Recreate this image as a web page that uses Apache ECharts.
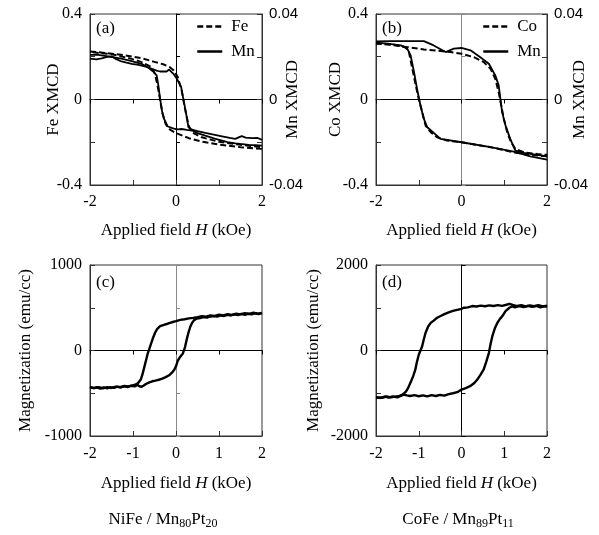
<!DOCTYPE html>
<html><head><meta charset="utf-8">
<script src="https://cdn.jsdelivr.net/npm/echarts@6/dist/echarts.min.js"></script>
<style>html,body{margin:0;padding:0;background:#fff}#c{width:599px;height:535px}</style>
</head><body><div id="c"></div>
<script>
// ---------- data (H in kOe) ----------
const xTicks = [-2, -1, 0, 1, 2];
// panel (a) Fe XMCD (left axis) and Mn XMCD (right axis)
const aFeUp = [[-2,0.225],[-1.6,0.217],[-1.2,0.207],[-0.8,0.193],[-0.5,0.176],[-0.3,0.165],[-0.15,0.152],[-0.05,0.136],[0.04,0.105],[0.13,0.045],[0.21,-0.044],[0.29,-0.12],[0.37,-0.153],[0.6,-0.177],[1.0,-0.198],[1.5,-0.212],[2,-0.223]];
const aFeDown = [[2,-0.231],[1.5,-0.223],[1.0,-0.211],[0.6,-0.197],[0.3,-0.181],[0,-0.157],[-0.14,-0.141],[-0.24,-0.115],[-0.32,-0.06],[-0.37,0.0],[-0.43,0.066],[-0.49,0.12],[-0.57,0.152],[-0.8,0.175],[-1.03,0.19],[-1.5,0.212],[-2,0.222]];
const aMnUp = [[-2,0.0191],[-1.85,0.0188],[-1.73,0.0192],[-1.6,0.0199],[-1.5,0.0202],[-1.4,0.0190],[-1.27,0.0178],[-1.15,0.0172],[-1.03,0.0167],[-0.9,0.0163],[-0.8,0.0159],[-0.68,0.0152],[-0.57,0.0144],[-0.45,0.0135],[-0.37,0.0131],[-0.28,0.0132],[-0.22,0.0131],[-0.16,0.0140],[-0.12,0.0145],[-0.06,0.0120],[0.02,0.0097],[0.12,0.0058],[0.17,0.0003],[0.23,-0.0059],[0.29,-0.0130],[0.37,-0.0141],[0.5,-0.0148],[0.68,-0.0156],[0.85,-0.0163],[1.07,-0.0172],[1.25,-0.0180],[1.38,-0.0184],[1.47,-0.0176],[1.53,-0.0171],[1.62,-0.0178],[1.77,-0.0181],[1.9,-0.0180],[2,-0.0189]];
const aMnDown = [[2,-0.0216],[1.85,-0.0214],[1.69,-0.0212],[1.5,-0.0208],[1.38,-0.0205],[1.2,-0.0199],[1.07,-0.0192],[0.9,-0.0183],[0.68,-0.0169],[0.5,-0.0157],[0.37,-0.0145],[0.25,-0.0142],[0.13,-0.0138],[0.05,-0.0140],[-0.02,-0.0138],[-0.1,-0.0133],[-0.14,-0.0130],[-0.2,-0.0125],[-0.24,-0.0106],[-0.28,-0.0090],[-0.32,-0.0059],[-0.37,0.0003],[-0.41,0.0066],[-0.45,0.0113],[-0.53,0.0131],[-0.65,0.0150],[-0.8,0.0167],[-1.03,0.0180],[-1.27,0.0191],[-1.58,0.0202],[-1.81,0.0209],[-2,0.0209]];
// panel (b) Co XMCD (left) and Mn XMCD (right)
const bCoUp = [[-2,0.264],[-1.73,0.258],[-1.5,0.252],[-1.27,0.245],[-0.88,0.234],[-0.49,0.227],[-0.26,0.222],[0,0.214],[0.29,0.198],[0.52,0.175],[0.68,0.144],[0.79,0.097],[0.87,0.034],[0.93,-0.028],[0.99,-0.091],[1.07,-0.153],[1.16,-0.2],[1.26,-0.231],[1.46,-0.247],[1.77,-0.255],[2,-0.259]];
const bCoDown = [[2,-0.266],[1.46,-0.255],[1.22,-0.247],[0.68,-0.223],[0,-0.2],[-0.34,-0.192],[-0.57,-0.177],[-0.72,-0.153],[-0.84,-0.122],[-0.92,-0.059],[-1.0,0.003],[-1.07,0.066],[-1.15,0.144],[-1.23,0.222],[-1.31,0.245],[-1.58,0.256],[-2,0.261]];
const bMnUp = [[-2,0.0272],[-1.66,0.0273],[-0.88,0.0273],[-0.65,0.0253],[-0.37,0.0222],[-0.18,0.0238],[0,0.0241],[0.21,0.0230],[0.44,0.0198],[0.64,0.0167],[0.79,0.0113],[0.87,0.0066],[0.91,0.0003],[0.95,-0.0059],[1.03,-0.0122],[1.14,-0.0184],[1.26,-0.0239],[1.46,-0.0250],[1.77,-0.0259],[2,-0.0266]];
const bMnDown = [[2,-0.0281],[1.61,-0.0266],[1.22,-0.0244],[0.68,-0.0223],[0,-0.02],[-0.49,-0.0184],[-0.8,-0.013],[-0.88,-0.0091],[-0.96,-0.0028],[-1.04,0.005],[-1.11,0.0128],[-1.19,0.0206],[-1.27,0.0238],[-1.42,0.0253],[-1.73,0.0261],[-2,0.0266]];
// panel (c) NiFe / Mn80Pt20 magnetization (emu/cc)
const cUp = [[-2,-425],[-1.92,-440],[-1.84,-430],[-1.76,-446],[-1.68,-432],[-1.6,-442],[-1.52,-428],[-1.44,-437],[-1.36,-422],[-1.28,-432],[-1.2,-418],[-1.12,-428],[-1.04,-412],[-0.96,-420],[-0.9,-402],[-0.85,-418],[-0.8,-425],[-0.75,-410],[-0.7,-392],[-0.62,-372],[-0.55,-360],[-0.48,-352],[-0.4,-342],[-0.32,-330],[-0.24,-312],[-0.16,-290],[-0.1,-262],[-0.04,-225],[0,-185],[0.04,-120],[0.1,-72],[0.16,-35],[0.21,40],[0.25,130],[0.29,210],[0.33,275],[0.37,320],[0.42,355],[0.48,372],[0.56,380],[0.64,390],[0.72,384],[0.8,398],[0.88,402],[0.96,396],[1.04,410],[1.12,404],[1.2,416],[1.28,410],[1.36,422],[1.44,414],[1.52,428],[1.6,418],[1.68,430],[1.76,422],[1.84,436],[1.92,426],[2,438]];
const cDown = [[2,440],[1.9,430],[1.8,442],[1.7,428],[1.6,436],[1.5,422],[1.4,430],[1.3,416],[1.2,424],[1.1,410],[1.0,418],[0.9,404],[0.8,410],[0.7,396],[0.6,402],[0.5,390],[0.4,382],[0.3,376],[0.2,366],[0.1,358],[0,343],[-0.1,330],[-0.18,316],[-0.28,300],[-0.37,285],[-0.44,250],[-0.49,205],[-0.54,140],[-0.58,80],[-0.62,20],[-0.66,-40],[-0.7,-120],[-0.74,-200],[-0.78,-280],[-0.82,-340],[-0.88,-380],[-0.95,-400],[-1.03,-410],[-1.12,-420],[-1.2,-415],[-1.3,-430],[-1.4,-422],[-1.5,-438],[-1.6,-428],[-1.7,-442],[-1.8,-430],[-1.9,-440],[-2,-430]];
// panel (d) CoFe / Mn89Pt11 magnetization (emu/cc)
const dUp = [[-2,-1092],[-1.9,-1110],[-1.8,-1080],[-1.7,-1100],[-1.6,-1075],[-1.5,-1095],[-1.42,-1060],[-1.35,-1030],[-1.28,-1050],[-1.2,-1065],[-1.1,-1045],[-1.0,-1070],[-0.9,-1050],[-0.8,-1075],[-0.7,-1045],[-0.6,-1065],[-0.5,-1040],[-0.4,-1055],[-0.3,-1020],[-0.2,-1000],[-0.1,-975],[0,-915],[0.1,-880],[0.2,-835],[0.3,-760],[0.37,-680],[0.45,-560],[0.52,-440],[0.58,-260],[0.64,-60],[0.68,150],[0.72,330],[0.78,520],[0.84,650],[0.9,740],[0.96,810],[1.03,920],[1.07,965],[1.12,1000],[1.18,1030],[1.25,1010],[1.35,1040],[1.45,1015],[1.55,1045],[1.65,1020],[1.75,1045],[1.85,1010],[1.93,1040],[2,1020]];
const dDown = [[2,1050],[1.9,1030],[1.8,1060],[1.7,1035],[1.6,1055],[1.5,1030],[1.4,1060],[1.3,1040],[1.2,1065],[1.12,1090],[1.05,1070],[0.95,1045],[0.85,1060],[0.75,1040],[0.65,1055],[0.55,1035],[0.45,1050],[0.35,1030],[0.25,1040],[0.15,1010],[0.05,1000],[0,975],[-0.1,950],[-0.2,925],[-0.3,890],[-0.4,850],[-0.5,800],[-0.57,765],[-0.65,700],[-0.72,645],[-0.78,560],[-0.84,415],[-0.88,270],[-0.92,100],[-0.96,0],[-1.0,-100],[-1.05,-300],[-1.08,-450],[-1.13,-600],[-1.18,-720],[-1.25,-880],[-1.3,-960],[-1.38,-1030],[-1.45,-1060],[-1.55,-1080],[-1.65,-1095],[-1.75,-1075],[-1.85,-1105],[-2,-1100]];
// tick labels
const leftLabelsXMCD = ['-0.4', '0', '0.4'];
const rightLabelsXMCD = ['-0.04', '0', '0.04'];

// ---------- layout / styling ----------
const SERIF = 'Liberation Serif', SANS = 'Liberation Sans';
const FRAME = '#333';
const grids = [
  {left: 90, top: 14, width: 172, height: 171},
  {left: 376, top: 14, width: 171, height: 171},
  {left: 90, top: 265, width: 172, height: 171},
  {left: 376, top: 265, width: 171, height: 171}
];
const vZeroColor = ['#000', '#888', '#888', '#000'];
const xName = 'Applied field {i|H} (kOe)';
const nameStyle = {fontFamily: SERIF, fontSize: 17, color: '#000',
  rich: {i: {fontFamily: SERIF, fontSize: 17, fontStyle: 'italic', color: '#000'}}};
const labelStyle = {fontFamily: SERIF, fontSize: 16, color: '#000'};

function fmtEnds(v, lo, hi, labels) {
  if (Math.abs(v - lo) < 1e-9) return labels[0];
  if (Math.abs(v) < 1e-9) return labels[1];
  if (Math.abs(v - hi) < 1e-9) return labels[2];
  return '';
}

const xAxis = [], yAxis = [], series = [];
const yRanges = [
  {min: -0.4, max: 0.4, interval: 0.2, name: 'Fe XMCD', gap: 28, labels: leftLabelsXMCD, rgap: 22},
  {min: -0.4, max: 0.4, interval: 0.2, name: 'Co XMCD', gap: 32, labels: leftLabelsXMCD, rgap: 24},
  {min: -1000, max: 1000, interval: 500, name: 'Magnetization (emu/cc)', gap: 56, labels: ['-1000', '0', '1000']},
  {min: -2000, max: 2000, interval: 1000, name: 'Magnetization (emu/cc)', gap: 54, labels: ['-2000', '0', '2000']}
];
const xLabelMargin = [9, 9, 10, 10];
const xNameGap = [37, 37, 39, 39];
const leftIdx = [], rightIdx = [], bottomIdx = [];
grids.forEach((g, gi) => {
  bottomIdx[gi] = xAxis.length;
  xAxis.push({
    gridIndex: gi, type: 'value', min: xTicks[0], max: xTicks[xTicks.length - 1], interval: 1, position: 'bottom',
    axisLine: {onZero: false, lineStyle: {color: FRAME, width: 1}},
    axisTick: {inside: true, length: 5, lineStyle: {color: FRAME}},
    axisLabel: {...labelStyle, margin: xLabelMargin[gi], formatter: v => (gi < 2 && Math.abs(v) === 1) ? '' : String(v)},
    splitLine: {show: false},
    name: xName, nameLocation: 'middle', nameGap: xNameGap[gi], nameMoveOverlap: false, nameTextStyle: nameStyle
  });
  const yr = yRanges[gi];
  leftIdx[gi] = yAxis.length;
  yAxis.push({
    gridIndex: gi, type: 'value', min: yr.min, max: yr.max, interval: yr.interval, position: 'left',
    axisLine: {show: true, onZero: false, lineStyle: {color: FRAME, width: 1}},
    axisTick: {inside: true, length: 5, lineStyle: {color: FRAME}},
    axisLabel: {...labelStyle, margin: 8, formatter: v => fmtEnds(v, yr.min, yr.max, yr.labels)},
    splitLine: {show: false},
    name: yr.name, nameLocation: 'middle', nameRotate: 90, nameGap: yr.gap, nameMoveOverlap: false, nameTextStyle: nameStyle
  });
  if (gi < 2) {
    rightIdx[gi] = yAxis.length;
    yAxis.push({
      gridIndex: gi, type: 'value', min: -0.04, max: 0.04, interval: 0.02, position: 'right',
      axisLine: {show: true, onZero: false, lineStyle: {color: FRAME, width: 1}},
      axisTick: {inside: true, length: 5, lineStyle: {color: FRAME}},
      axisLabel: {fontFamily: SANS, fontSize: 15, color: '#000', margin: 7,
        formatter: v => fmtEnds(v, -0.04, 0.04, rightLabelsXMCD)},
      splitLine: {show: false},
      name: 'Mn XMCD', nameLocation: 'middle', nameRotate: 90, nameGap: yr.rgap, nameMoveOverlap: false, nameTextStyle: nameStyle
    });
  }
  // zero lines with ticks
  xAxis.push({
    gridIndex: gi, type: 'value', min: -2, max: 2, interval: 1, position: 'bottom',
    axisLine: {show: true, onZero: true, onZeroAxisIndex: leftIdx[gi], lineStyle: {color: '#000', width: 1}},
    axisTick: {show: true, inside: false, length: 4, lineStyle: {color: '#000'}},
    axisLabel: {show: false}, splitLine: {show: false}
  });
  yAxis.push({
    gridIndex: gi, type: 'value', min: yr.min, max: yr.max, interval: yr.interval, position: 'left',
    axisLine: {show: true, onZero: true, onZeroAxisIndex: bottomIdx[gi], lineStyle: {color: vZeroColor[gi], width: 1}},
    axisTick: {show: true, inside: true, length: 4, lineStyle: {color: vZeroColor[gi]}},
    axisLabel: {show: false}, splitLine: {show: false}
  });
});

function line(name, data, gi, yIdx, dashed, width) {
  return {
    name, type: 'line', data, xAxisIndex: bottomIdx[gi], yAxisIndex: yIdx,
    symbol: 'none', showSymbol: false, smooth: false, animation: false, silent: true,
    lineStyle: {color: '#000', width: width, type: dashed ? [6, 3] : 'solid'},
    itemStyle: {color: '#000'}, z: dashed ? 3 : 2
  };
}
series.push(line('Fe', aFeUp, 0, leftIdx[0], true, 2));
series.push(line('Fe', aFeDown, 0, leftIdx[0], true, 2));
series.push(line('Mn', aMnUp, 0, rightIdx[0], false, 1.8));
series.push(line('Mn', aMnDown, 0, rightIdx[0], false, 1.8));
series.push(line('Co', bCoUp, 1, leftIdx[1], true, 2));
series.push(line('Co', bCoDown, 1, leftIdx[1], true, 2));
series.push(line('Mn', bMnUp, 1, rightIdx[1], false, 1.8));
series.push(line('Mn', bMnDown, 1, rightIdx[1], false, 1.8));
series.push(line('NiFe', cUp, 2, leftIdx[2], false, 2.4));
series.push(line('NiFe', cDown, 2, leftIdx[2], false, 2.4));
series.push(line('CoFe', dUp, 3, leftIdx[3], false, 2.4));
series.push(line('CoFe', dDown, 3, leftIdx[3], false, 2.4));

const legendBase = {orient: 'vertical', itemWidth: 25, itemHeight: 14, itemGap: 8, padding: 0,
  itemStyle: {opacity: 0, borderWidth: 0},
  lineStyle: {width: 2.5},
  textStyle: {fontFamily: SERIF, fontSize: 17, color: '#000', padding: [0, 0, 0, 4]}, selectedMode: false};
const titleStyle = {fontFamily: SERIF, fontSize: 17, fontWeight: 'normal', color: '#000'};
const capStyle = {...titleStyle, rich: {s: {fontFamily: SERIF, fontSize: 12, color: '#000', padding: [9, 0, 0, 0]}}};

const option = {
  backgroundColor: '#fff',
  animation: false,
  grid: grids.map(g => ({...g, show: true, borderColor: FRAME, borderWidth: 1, backgroundColor: 'transparent',
    containLabel: false, outerBoundsMode: 'none'})),
  xAxis, yAxis, series,
  legend: [
    {...legendBase, data: ['Fe', 'Mn'], left: 196, top: 18},
    {...legendBase, data: ['Co', 'Mn'], left: 482, top: 18}
  ],
  title: [
    {text: '(a)', left: 96, top: 20, padding: 0, textStyle: titleStyle},
    {text: '(b)', left: 382, top: 20, padding: 0, textStyle: titleStyle},
    {text: '(c)', left: 96, top: 274, padding: 0, textStyle: titleStyle},
    {text: '(d)', left: 382, top: 274, padding: 0, textStyle: titleStyle},
    {text: 'NiFe / Mn{s|80}Pt{s|20}', left: 163, textAlign: 'center', top: 509, padding: 0, textStyle: capStyle},
    {text: 'CoFe / Mn{s|89}Pt{s|11}', left: 458, textAlign: 'center', top: 509, padding: 0, textStyle: capStyle}
  ]
};
const chart = echarts.init(document.getElementById('c'), null, {renderer: 'canvas'});
chart.setOption(option);
</script>
</body></html>
